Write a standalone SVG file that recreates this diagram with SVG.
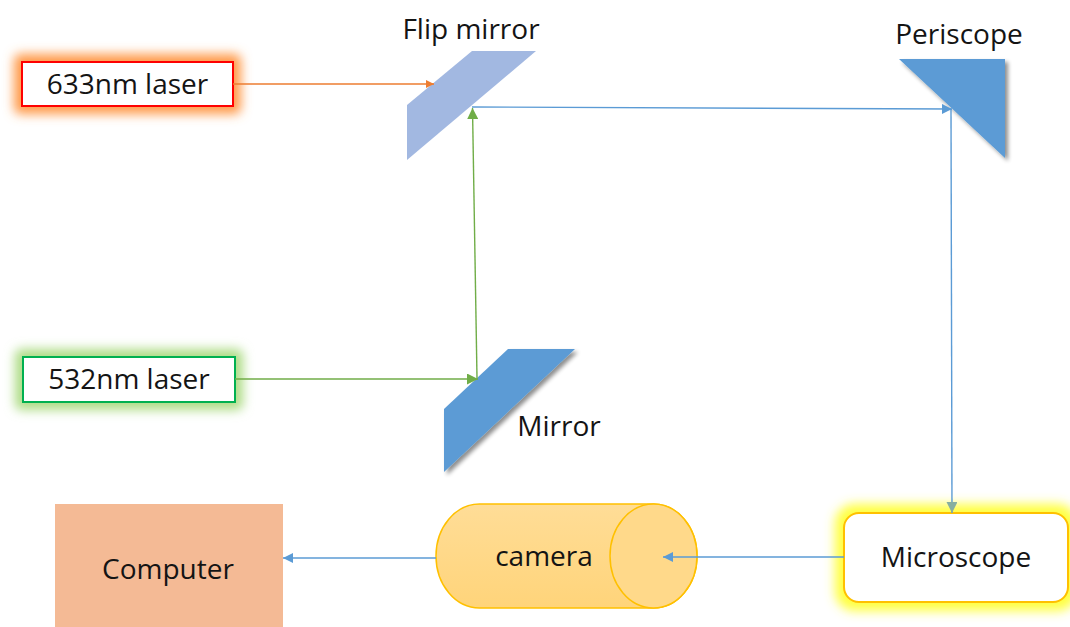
<svg xmlns="http://www.w3.org/2000/svg" width="1070" height="627" viewBox="0 0 1070 627">
  <style>
    .lbl { font-family: "Open Sans", "Liberation Sans", sans-serif; font-size: 28px; fill: #141414; }
    .beam { fill: none; stroke-width: 1.4; }
  </style>
  <defs>
    <filter id="glow" x="-30%" y="-60%" width="160%" height="220%">
      <feGaussianBlur stdDeviation="5.5"/>
    </filter>
    <filter id="shadow" x="-20%" y="-20%" width="150%" height="150%">
      <feGaussianBlur in="SourceAlpha" stdDeviation="2"/>
      <feOffset dx="3" dy="3" result="b"/>
      <feComponentTransfer><feFuncA type="linear" slope="0.45"/></feComponentTransfer>
      <feMerge><feMergeNode/><feMergeNode in="SourceGraphic"/></feMerge>
    </filter>
    <linearGradient id="camFill" x1="0" y1="0" x2="0" y2="1">
      <stop offset="0" stop-color="#FFDD97"/>
      <stop offset="1" stop-color="#FFD47A"/>
    </linearGradient>
    <marker id="arrOrange" viewBox="0 0 10 10" refX="10" refY="5" markerWidth="8" markerHeight="8" markerUnits="userSpaceOnUse" orient="auto">
      <path d="M0,0 L10,5 L0,10 z" fill="#ED7D31"/>
    </marker>
    <marker id="arrGreen" viewBox="0 0 10 10" refX="10" refY="5" markerWidth="11" markerHeight="11" markerUnits="userSpaceOnUse" orient="auto">
      <path d="M0,0 L10,5 L0,10 z" fill="#70AD47"/>
    </marker>
    <marker id="arrBlue" viewBox="0 0 10 10" refX="10" refY="5" markerWidth="10" markerHeight="10" markerUnits="userSpaceOnUse" orient="auto">
      <path d="M0,0 L10,5 L0,10 z" fill="#5B9BD5"/>
    </marker>
    <marker id="arrTeal" viewBox="0 0 10 10" refX="10" refY="5" markerWidth="11" markerHeight="11" markerUnits="userSpaceOnUse" orient="auto">
      <path d="M0,0 L10,5 L0,10 z" fill="#86AFA0"/>
    </marker>
  </defs>

  <rect width="1070" height="627" fill="#ffffff"/>

  <!-- 633nm laser -->
  <g id="laser633">
    <rect x="14" y="54" width="227" height="60" rx="6" fill="#FF9A4A" filter="url(#glow)"/>
    <rect x="22" y="62" width="211" height="44" fill="#ffffff" stroke="#FF0000" stroke-width="2"/>
    <text class="lbl" x="127.5" y="94" text-anchor="middle">633nm laser</text>
  </g>

  <!-- 532nm laser -->
  <g id="laser532">
    <rect x="15" y="349" width="228" height="61" rx="6" fill="#ADDC85" filter="url(#glow)"/>
    <rect x="23" y="357" width="212" height="45" fill="#ffffff" stroke="#00B050" stroke-width="2"/>
    <text class="lbl" x="129" y="389" text-anchor="middle">532nm laser</text>
  </g>

  <!-- Flip mirror -->
  <g id="flipMirror">
    <polygon points="407,105 472,51 536,51 407,160" fill="#A2B8E1"/>
    <text class="lbl" x="471" y="39" text-anchor="middle">Flip mirror</text>
  </g>

  <!-- Periscope -->
  <g id="periscope">
    <polygon points="899,59 1005,59 1005,158" fill="#5B9BD5" filter="url(#shadow)"/>
    <text class="lbl" x="959" y="44" text-anchor="middle">Periscope</text>
  </g>

  <!-- Mirror -->
  <g id="mirror">
    <polygon points="444,409 508,349 575,349 444,472" fill="#5B9BD5" filter="url(#shadow)"/>
    <text class="lbl" x="559" y="436" text-anchor="middle">Mirror</text>
  </g>

  <!-- Computer -->
  <g id="computer">
    <rect x="55" y="504" width="228" height="123" fill="#F4BA95"/>
    <text class="lbl" x="168" y="579" text-anchor="middle">Computer</text>
  </g>

  <!-- Camera (horizontal cylinder) -->
  <g id="camera">
    <path d="M479.5,504 L653.5,504 A43.5,52 0 0 1 653.5,608 L479.5,608 A43.5,52 0 0 1 479.5,504 Z" fill="url(#camFill)" stroke="#FFC000" stroke-width="1.5"/>
    <ellipse cx="653.5" cy="556" rx="43.5" ry="52" fill="#FFD98A" stroke="#FFC000" stroke-width="1.5"/>
    <text class="lbl" x="544" y="566" text-anchor="middle">camera</text>
  </g>

  <!-- Microscope -->
  <g id="microscope">
    <rect x="835" y="504" width="242" height="107" rx="20" fill="#FFFF40" filter="url(#glow)"/>
    <rect x="844" y="513" width="224" height="89" rx="15" fill="#ffffff" stroke="#FFC000" stroke-width="2"/>
    <text class="lbl" x="956" y="567" text-anchor="middle">Microscope</text>
  </g>

  <!-- Beam paths and signal lines -->
  <g id="connectors">
    <line class="beam" x1="233" y1="84" x2="434" y2="84" stroke="#ED7D31" marker-end="url(#arrOrange)"/>
    <line class="beam" x1="235" y1="379" x2="478" y2="379" stroke="#70AD47" marker-end="url(#arrGreen)"/>
    <line class="beam" x1="477" y1="378" x2="472.5" y2="108" stroke="#70AD47" marker-end="url(#arrGreen)"/>
    <line class="beam" x1="472" y1="107" x2="952" y2="109" stroke="#5B9BD5" marker-end="url(#arrBlue)"/>
    <line class="beam" x1="951" y1="109" x2="952" y2="513" stroke="#5B9BD5" marker-end="url(#arrTeal)"/>
    <line class="beam" x1="844" y1="557" x2="663" y2="557" stroke="#5B9BD5" marker-end="url(#arrBlue)"/>
    <line class="beam" x1="436" y1="558" x2="283" y2="558" stroke="#5B9BD5" marker-end="url(#arrBlue)"/>
  </g>
</svg>
